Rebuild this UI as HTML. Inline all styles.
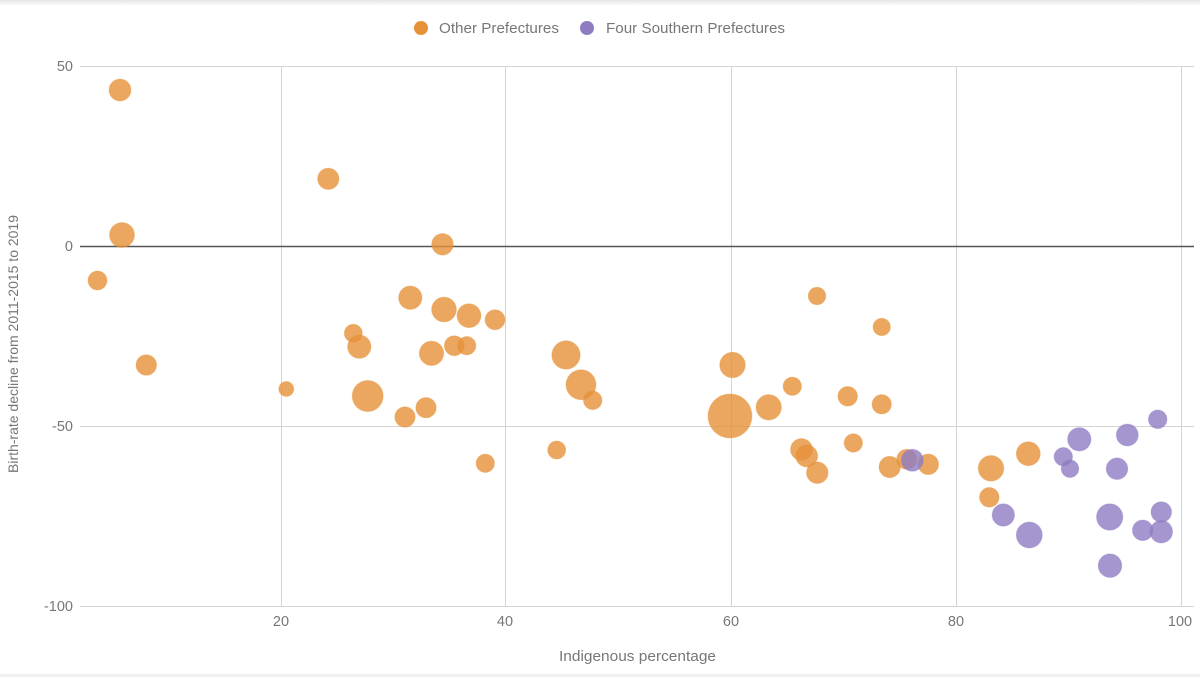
<!DOCTYPE html>
<html><head><meta charset="utf-8"><style>
html,body{margin:0;padding:0;background:#fff;}
body{width:1200px;height:677px;overflow:hidden;position:relative;}
svg{display:block;}
text{font-family:"Liberation Sans",Arial,sans-serif;fill:#777;}
</style></head><body>
<svg width="1200" height="677" viewBox="0 0 1200 677" xmlns="http://www.w3.org/2000/svg">
<defs>
<linearGradient id="tg" x1="0" y1="0" x2="0" y2="1">
<stop offset="0" stop-color="#e4e4e4"/><stop offset="1" stop-color="#ffffff"/>
</linearGradient>
</defs>
<rect x="0" y="0" width="1200" height="677" fill="#fff"/>
<rect x="0" y="0" width="1200" height="6" fill="url(#tg)"/>
<rect x="0" y="674" width="1200" height="3" fill="#f1f1f1"/>

<circle cx="421" cy="28" r="7" fill="#e69138"/>
<text x="439" y="33" font-size="15" textLength="120" lengthAdjust="spacingAndGlyphs">Other Prefectures</text>
<circle cx="587" cy="28" r="7" fill="#8e7cc3"/>
<text x="606" y="33" font-size="15" textLength="179" lengthAdjust="spacingAndGlyphs">Four Southern Prefectures</text>

<g stroke="#d4d4d4" stroke-width="1">
<line x1="80" y1="66.5" x2="1194" y2="66.5"/>
<line x1="80" y1="426.5" x2="1194" y2="426.5"/>
<line x1="80" y1="606.5" x2="1194" y2="606.5"/>
<line x1="281.5" y1="66" x2="281.5" y2="606"/>
<line x1="505.5" y1="66" x2="505.5" y2="606"/>
<line x1="731.5" y1="66" x2="731.5" y2="606"/>
<line x1="956.5" y1="66" x2="956.5" y2="606"/>
<line x1="1181.5" y1="66" x2="1181.5" y2="606"/>
</g>
<line x1="80" y1="246.5" x2="1194" y2="246.5" stroke="#555" stroke-width="1.5"/>

<g font-size="14.5" text-anchor="end">
<text x="73" y="71">50</text>
<text x="73" y="251">0</text>
<text x="73" y="431">-50</text>
<text x="73" y="611">-100</text>
</g>
<g font-size="14.5" text-anchor="middle">
<text x="281" y="626">20</text>
<text x="505" y="626">40</text>
<text x="731" y="626">60</text>
<text x="956" y="626">80</text>
<text x="1180" y="626">100</text>
</g>
<text x="559" y="661" font-size="15" textLength="157" lengthAdjust="spacingAndGlyphs">Indigenous percentage</text>
<text transform="translate(18,473) rotate(-90)" font-size="14" textLength="258" lengthAdjust="spacingAndGlyphs">Birth-rate decline from 2011-2015 to 2019</text>

<g fill="#e69138" fill-opacity="0.8" stroke="#e69138" stroke-opacity="0.3" stroke-width="1">
<circle cx="120" cy="90" r="11"/>
<circle cx="122" cy="235" r="12.5"/>
<circle cx="97.5" cy="280.5" r="9.5"/>
<circle cx="146.3" cy="365" r="10.3"/>
<circle cx="328.3" cy="178.8" r="10.7"/>
<circle cx="442.5" cy="244.3" r="10.8"/>
<circle cx="286.3" cy="389" r="7.5"/>
<circle cx="353.3" cy="333.2" r="9"/>
<circle cx="359.3" cy="346.7" r="11.7"/>
<circle cx="367.7" cy="396" r="15.5"/>
<circle cx="410.3" cy="297.7" r="11.7"/>
<circle cx="444" cy="309.5" r="12.4"/>
<circle cx="469" cy="315.7" r="12"/>
<circle cx="495" cy="319.7" r="10"/>
<circle cx="431.5" cy="353.3" r="12.2"/>
<circle cx="454.3" cy="345.7" r="10"/>
<circle cx="466.7" cy="345.7" r="9.2"/>
<circle cx="405" cy="417" r="10.2"/>
<circle cx="426" cy="407.7" r="10.2"/>
<circle cx="485.3" cy="463.3" r="9.2"/>
<circle cx="556.7" cy="450" r="9"/>
<circle cx="566" cy="355" r="14.2"/>
<circle cx="581" cy="384.7" r="15"/>
<circle cx="592.7" cy="400.3" r="9.3"/>
<circle cx="732.5" cy="365" r="12.8"/>
<circle cx="730" cy="416" r="22"/>
<circle cx="768.7" cy="407.3" r="12.7"/>
<circle cx="792.3" cy="386.3" r="9.2"/>
<circle cx="817" cy="296" r="8.8"/>
<circle cx="847.7" cy="396.3" r="9.8"/>
<circle cx="881.7" cy="327" r="8.7"/>
<circle cx="881.7" cy="404.3" r="9.7"/>
<circle cx="853.3" cy="443" r="9.2"/>
<circle cx="801.5" cy="449.5" r="11"/>
<circle cx="806.7" cy="456" r="11"/>
<circle cx="817.3" cy="472.7" r="10.8"/>
<circle cx="889.7" cy="467" r="10.7"/>
<circle cx="906.7" cy="459.3" r="10"/>
<circle cx="928.3" cy="464.3" r="10.3"/>
<circle cx="991" cy="468.3" r="12.8"/>
<circle cx="989.3" cy="497.3" r="9.8"/>
<circle cx="1028.3" cy="453.7" r="12"/>
</g>

<g fill="#8e7cc3" fill-opacity="0.8" stroke="#8e7cc3" stroke-opacity="0.3" stroke-width="1">
<circle cx="912.3" cy="460.3" r="11"/>
<circle cx="1003.3" cy="515" r="11.2"/>
<circle cx="1029.3" cy="535" r="13"/>
<circle cx="1079.3" cy="439.3" r="11.7"/>
<circle cx="1063.3" cy="456.7" r="9.2"/>
<circle cx="1070" cy="468.7" r="8.8"/>
<circle cx="1127.3" cy="435" r="11"/>
<circle cx="1157.7" cy="419.3" r="9.3"/>
<circle cx="1117" cy="468.7" r="10.8"/>
<circle cx="1109.7" cy="517" r="13.2"/>
<circle cx="1161.3" cy="512" r="10.3"/>
<circle cx="1142.7" cy="530.3" r="10.3"/>
<circle cx="1161.3" cy="531.7" r="11.3"/>
<circle cx="1110" cy="565.7" r="11.8"/>
</g>
</svg>
</body></html>
